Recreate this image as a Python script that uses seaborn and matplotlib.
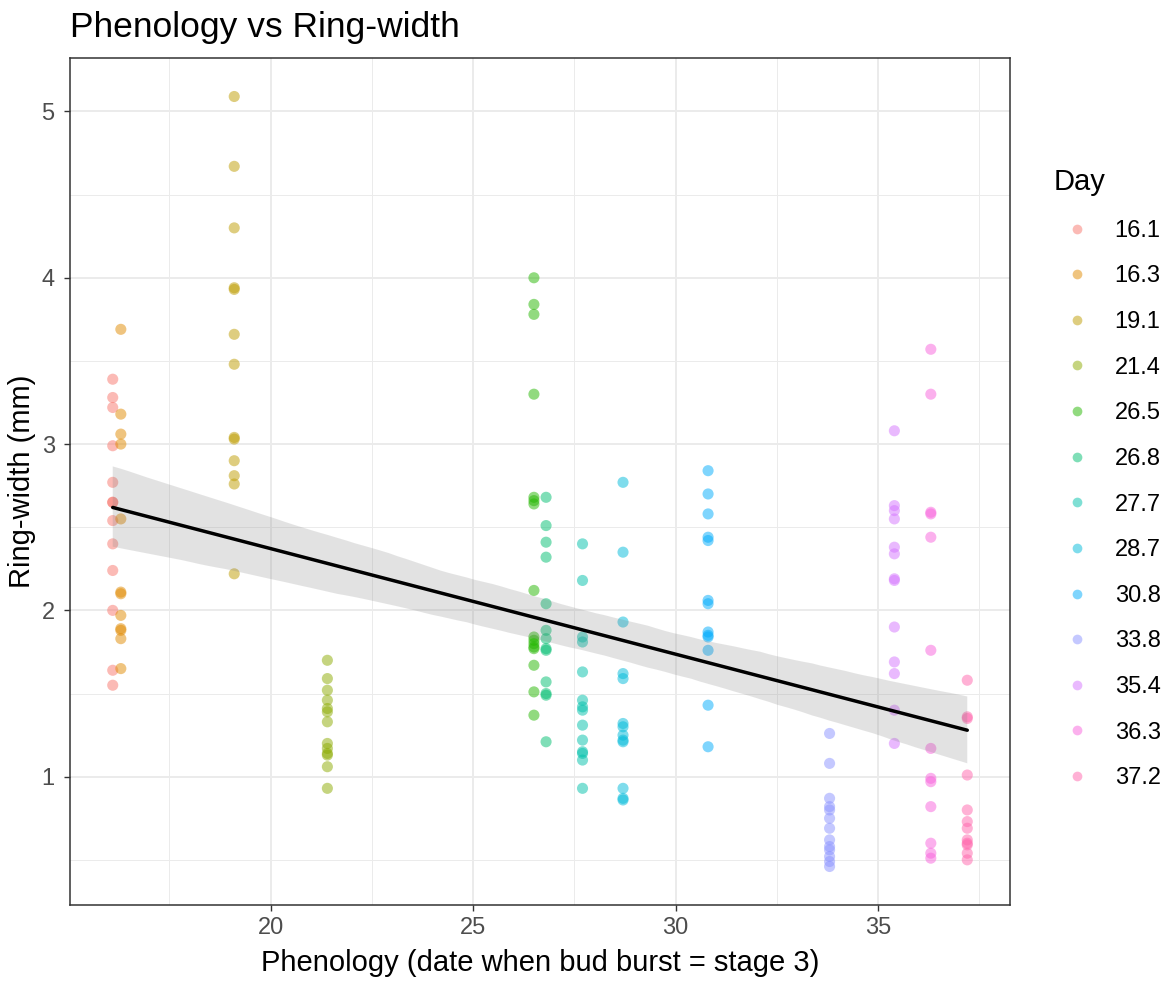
import numpy as np
import pandas as pd
import matplotlib
matplotlib.use("Agg")
import matplotlib.pyplot as plt
from matplotlib.ticker import MultipleLocator
from matplotlib.lines import Line2D
import seaborn as sns

# Bud-burst day (phenology) for each group of trees
days = ["16.1", "16.3", "19.1", "21.4", "26.5", "26.8", "27.7",
        "28.7", "30.8", "33.8", "35.4", "36.3", "37.2"]

# Ring-width (mm) measured for the trees of each group
ring_16_1 = [3.39, 3.28, 3.22, 2.99, 2.77, 2.65, 2.65, 2.54, 2.40, 2.24, 2.00, 1.64, 1.55]
ring_16_3 = [3.69, 3.18, 3.06, 3.00, 2.55, 2.11, 2.10, 1.97, 1.89, 1.88, 1.83, 1.65]
ring_19_1 = [5.09, 4.67, 4.30, 3.94, 3.93, 3.66, 3.48, 3.04, 3.03, 2.90, 2.81, 2.76, 2.22]
ring_21_4 = [1.70, 1.59, 1.52, 1.46, 1.41, 1.39, 1.33, 1.20, 1.17, 1.14, 1.13, 1.06, 0.93]
ring_26_5 = [4.00, 3.84, 3.78, 3.30, 2.68, 2.66, 2.64, 2.12, 1.84, 1.82, 1.80, 1.78, 1.77,
             1.67, 1.51, 1.37]
ring_26_8 = [2.68, 2.51, 2.41, 2.32, 2.04, 1.88, 1.83, 1.77, 1.76, 1.57, 1.50, 1.49, 1.21]
ring_27_7 = [2.40, 2.18, 1.84, 1.81, 1.63, 1.46, 1.42, 1.40, 1.31, 1.22, 1.15, 1.14, 1.10, 0.93]
ring_28_7 = [2.77, 2.35, 1.93, 1.62, 1.59, 1.32, 1.30, 1.25, 1.22, 1.21, 0.93, 0.87, 0.86]
ring_30_8 = [2.84, 2.70, 2.58, 2.44, 2.42, 2.06, 2.04, 1.87, 1.85, 1.84, 1.76, 1.43, 1.18]
ring_33_8 = [1.26, 1.08, 0.87, 0.82, 0.80, 0.75, 0.69, 0.62, 0.58, 0.56, 0.52, 0.49, 0.46]
ring_35_4 = [3.08, 2.63, 2.60, 2.55, 2.38, 2.34, 2.19, 2.18, 1.90, 1.69, 1.62, 1.40, 1.20]
ring_36_3 = [3.57, 3.30, 2.59, 2.58, 2.44, 1.76, 1.17, 0.99, 0.97, 0.82, 0.60, 0.54, 0.51]
ring_37_2 = [1.58, 1.36, 1.35, 1.01, 0.80, 0.73, 0.69, 0.62, 0.60, 0.59, 0.54, 0.50]

ring_widths = [ring_16_1, ring_16_3, ring_19_1, ring_21_4, ring_26_5, ring_26_8, ring_27_7,
               ring_28_7, ring_30_8, ring_33_8, ring_35_4, ring_36_3, ring_37_2]

# Evenly spaced HCL hues, one per day
palette = ["#F8766D", "#E18A00", "#BE9C00", "#8CAB00", "#24B700", "#00BE70", "#00C1AB",
           "#00BBDA", "#00ACFC", "#8B93FF", "#D575FE", "#F962DD", "#FF65AC"]

rows = []
for day, values in zip(days, ring_widths):
    for v in values:
        rows.append({"Day": day, "Phenology": float(day), "Ring": v})
df = pd.DataFrame(rows)

sns.set_theme(style="white")
plt.rcParams["font.family"] = ["Liberation Sans", "DejaVu Sans"]

W, H = 1170, 983
fig = plt.figure(figsize=(W / 100, H / 100), dpi=100)
ax = fig.add_axes([70 / W, 1 - 905 / H, 940 / W, 847 / H])
ax.set_axisbelow(True)

sns.scatterplot(data=df, x="Phenology", y="Ring", hue="Day", hue_order=days,
                palette=palette, alpha=0.5, s=64, linewidth=0, ax=ax, legend=False)
# Linear fit with 95% confidence band (grey band, black line)
n_before = len(ax.collections)
sns.regplot(data=df, x="Phenology", y="Ring", scatter=False, color="black", seed=7,
            line_kws=dict(linewidth=2.5), ax=ax)
for band in ax.collections[n_before:]:
    band.set_facecolor("#7F7F7F")
    band.set_alpha(0.22)
    band.set_edgecolor("none")

# Axis ranges with 5% padding around the data
xmin, xmax = df["Phenology"].min(), df["Phenology"].max()
ymin, ymax = df["Ring"].min(), df["Ring"].max()
ax.set_xlim(xmin - 0.05 * (xmax - xmin), xmax + 0.05 * (xmax - xmin))
ax.set_ylim(ymin - 0.05 * (ymax - ymin), ymax + 0.05 * (ymax - ymin))

ax.xaxis.set_major_locator(MultipleLocator(5))
ax.xaxis.set_minor_locator(MultipleLocator(2.5))
ax.yaxis.set_major_locator(MultipleLocator(1))
ax.yaxis.set_minor_locator(MultipleLocator(0.5))
ax.grid(which="major", color="#EBEBEB", linewidth=1.4)
ax.grid(which="minor", color="#EBEBEB", linewidth=0.7)
ax.tick_params(which="major", direction="out", length=4, width=1.0, color="#333333",
               labelsize=17, labelcolor="#4D4D4D", bottom=True, left=True)
ax.tick_params(axis="x", which="major", pad=5)
ax.tick_params(axis="y", which="major", pad=7)
ax.tick_params(which="minor", length=0)
for sp in ax.spines.values():
    sp.set_color("#333333")
    sp.set_linewidth(1.1)

ax.set_xlabel("Phenology (date when bud burst = stage 3)", fontsize=21, color="black",
              labelpad=7)
ax.set_ylabel("Ring-width (mm)", fontsize=21, color="black", labelpad=4)

fig.text(70 / W, 1 - 28 / H, "Phenology vs Ring-width", fontsize=25.5, ha="left",
         va="center", color="black")

handles = [Line2D([], [], marker="o", linestyle="", markerfacecolor=c, markeredgewidth=0,
                  markersize=7, alpha=0.5) for c in palette]
leg = fig.legend(handles, days, title="Day", loc="upper left",
                 bbox_to_anchor=(1045 / W, 1 - 160 / H), frameon=False, fontsize=17,
                 title_fontsize=21, alignment="left", handlelength=2.0,
                 handletextpad=0.6, labelspacing=1.0, borderpad=0.35, borderaxespad=0)
for t in leg.get_texts():
    t.set_color("black")
leg.get_title().set_color("black")

fig.savefig("out.png", dpi=100)
